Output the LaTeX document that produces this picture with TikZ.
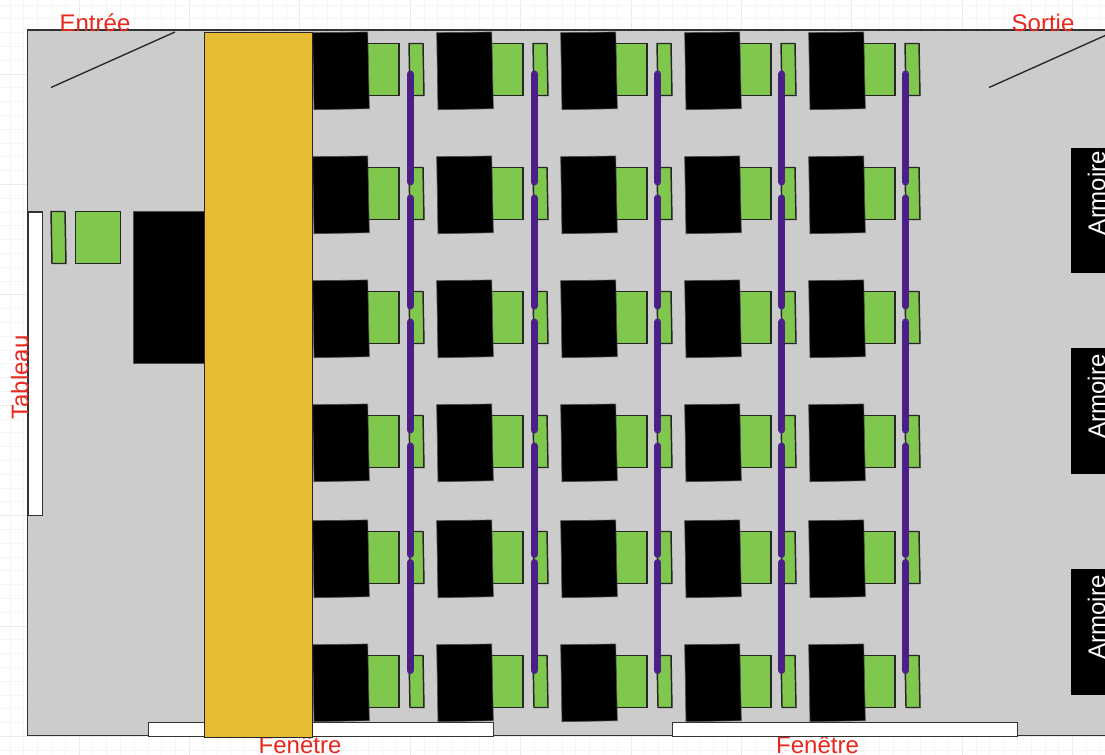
\documentclass[tikz,border=0pt]{standalone}
\usepackage{fontspec}
\setmainfont{Liberation Sans}
\definecolor{roomgray}{HTML}{CCCCCC}
\definecolor{desk}{HTML}{7FC74D}
\definecolor{yellowbar}{HTML}{E6BC33}
\definecolor{purplebar}{HTML}{4B1F87}
\definecolor{labelred}{HTML}{E8281E}
\definecolor{edge}{HTML}{333333}
\definecolor{gridminor}{HTML}{F5F5F5}
\definecolor{gridmajor}{HTML}{EBEBEB}
\tikzset{
  edged/.style={draw=edge,line width=1.1pt},
  room/.style={edged,fill=roomgray},
  chair/.style={fill=black,draw=black!70,line width=0.5pt},
  greendesk/.style={draw=black!85,line width=1.1pt,fill=desk},
  glass/.style={edged,fill=white},
  rail/.style={draw=purplebar,line width=5.25pt,line cap=round},
  redlabel/.style={text=labelred,font=\fontsize{18}{18}\selectfont,inner sep=0pt},
  whitelabel/.style={text=white,font=\fontsize{18}{18}\selectfont,inner sep=0pt},
  door/.style={draw=black!85,line width=1pt},
}
\begin{document}
\begin{tikzpicture}[x=0.75pt,y=-0.75pt]
\useasboundingbox (0,0) rectangle (1105,755);
\clip (0,0) rectangle (1105,755);
\fill[white] (0,0) rectangle (1105,755);
% grid
\foreach \g in {0,...,80} {
  \pgfmathtruncatemacro{\gm}{mod(\g,8)}
  \ifnum\gm=5
    \draw[gridmajor,line width=0.6pt] ({\g*13.8+9.9},0) -- ({\g*13.8+9.9},755);
  \else
    \draw[gridminor,line width=0.6pt] ({\g*13.8+9.9},0) -- ({\g*13.8+9.9},755);
  \fi
}
\foreach \g in {0,...,55} {
  \pgfmathtruncatemacro{\gm}{mod(\g,8)}
  \ifnum\gm=5
    \draw[gridmajor,line width=0.6pt] (0,{\g*13.8+5}) -- (1105,{\g*13.8+5});
  \else
    \draw[gridminor,line width=0.6pt] (0,{\g*13.8+5}) -- (1105,{\g*13.8+5});
  \fi
}
% label partly hidden by the room
\node[redlabel,anchor=base] (fenL) at (300,753.5) {Fenêtre};
% room
\draw[room] (27.5,30) rectangle (1110,735.5);
\node[redlabel,anchor=base] (fenR) at (817.5,753.5) {Fenêtre};
% tableau
\node[glass,inner sep=0pt,anchor=north west,minimum width=10.4pt,minimum height=227.6pt] (board) at (28,211.5) {};
% teacher
\draw[greendesk] (51,211.5) -- (65,211.5) -- (66,263.5) -- (52,263.5) -- cycle;
\draw[greendesk] (75.5,211.5) rectangle (120.5,263.5);
\draw[chair] (133.5,211) rectangle (206,363.5);
% classroom
\foreach \ya in {32,156,280,404,520,644} {
  \foreach \xa in {312.7,436.7,560.7,684.7,808.7} {
    \draw[greendesk] (\xa+55,\ya+11.5) rectangle (\xa+86.2,\ya+63.5);
    \draw[greendesk] (\xa+96.3,\ya+11.5) -- (\xa+110.3,\ya+11.5) -- (\xa+111.3,\ya+63.5) -- (\xa+97.3,\ya+63.5) -- cycle;
    \draw[chair] (\xa,\ya+0.7) -- (\xa+55,\ya) -- (\xa+56.6,\ya+76.7) -- (\xa+1.3,\ya+77.7) -- cycle;
  }
}
% windows
\node[glass,inner sep=0pt,anchor=north west,minimum width=258.4pt,minimum height=10.4pt] (winL) at (148,721.7) {};
\node[glass,inner sep=0pt,anchor=north west,minimum width=258.8pt,minimum height=10.4pt] (winR) at (671.7,721.7) {};
% rails
\foreach \xr in {410,534,657.8,781.8,905.6} {
  \foreach \ys/\ye in {74/182,198/306,322/430,446/554.5,562.5/670.5} {
    \draw[rail] (\xr,\ys) -- (\xr,\ye);
  }
}
% yellow bar
\draw[draw=black!85,line width=1pt,fill=yellowbar] (204.7,32.7) rectangle (312.8,737.4);
% doors
\coordinate (doorAa) at (51,87.5);
\coordinate (doorAb) at (175,32);
\coordinate (doorBa) at (989,87.5);
\coordinate (doorBb) at (1113,32);
\draw[door] (doorAa) -- (doorAb);
\draw[door] (doorBa) -- (doorBb);
% armoires
\fill[black] (1071,148) rectangle (1110,273);
\fill[black] (1071,348.3) rectangle (1110,474.3);
\fill[black] (1071,569.3) rectangle (1110,695);
\node[whitelabel,rotate=90,anchor=base] (armA) at (1105,193) {Armoire};
\node[whitelabel,rotate=90,anchor=base] (armB) at (1105,396.5) {Armoire};
\node[whitelabel,rotate=90,anchor=base] (armC) at (1105,617.5) {Armoire};
% labels
\node[redlabel,anchor=base] (entree) at (95,31.7) {Entrée};
\node[redlabel,anchor=base] (sortie) at (1043,31.7) {Sortie};
\node[redlabel,rotate=90,anchor=base] (tableau) at (28.5,377.5) {Tableau};
\end{tikzpicture}
\end{document}
